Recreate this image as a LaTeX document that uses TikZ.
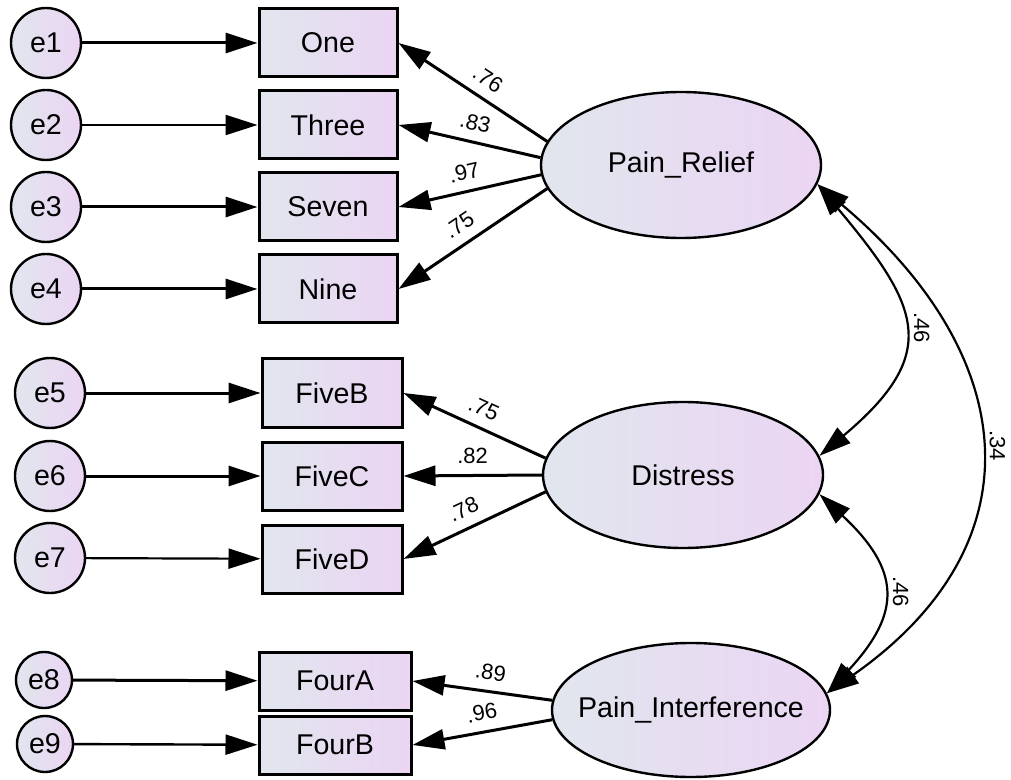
\documentclass[tikz,border=0pt]{standalone}
\usepackage{fontspec}
\setmainfont{Liberation Sans}
\usetikzlibrary{arrows.meta,shapes.geometric}
\definecolor{shadeL}{RGB}{225,230,238}
\definecolor{shadeR}{RGB}{235,213,243}
\begin{document}
\begin{tikzpicture}[x=0.5pt,y=-0.5pt,
		font=\fontsize{14.3}{17}\selectfont,
		err/.style={circle,draw,line width=1.2pt,left color=shadeL,right color=shadeR,minimum size=35pt,inner sep=0pt},
		obs/.style={rectangle,draw,line width=1.5pt,left color=shadeL,right color=shadeR,minimum width=69pt,minimum height=34pt,inner sep=0pt},
		lat/.style={ellipse,draw,line width=1.2pt,left color=shadeL,right color=shadeR,minimum width=140pt,minimum height=73pt,inner sep=0pt},
		reg/.style={-{Triangle[length=16pt,width=10pt]},line width=1.5pt},
		cov/.style={{Triangle[length=16pt,width=10pt]}-{Triangle[length=16pt,width=10pt]},line width=1.1pt},
		coef/.style={font=\fontsize{11}{13}\selectfont,sloped,above,inner sep=5pt},
		rcoef/.style={font=\fontsize{11}{13}\selectfont,midway,rotate=-90,anchor=south,inner sep=5pt}]
		\useasboundingbox(0,0)rectangle(1011,780);
		\node[err](e1)at(46,43){e1};
		\node[err](e2)at(46,125){e2};
		\node[err](e3)at(46,207){e3};
		\node[err](e4)at(46,289){e4};
		\node[err](e5)at(50,393){e5};
		\node[err](e6)at(50,476){e6};
		\node[err](e7)at(50,558){e7};
		\node[err,minimum size=28pt](e8)at(44,680){e8};
		\node[err,minimum size=28pt](e9)at(45,744){e9};
		\node[obs](one)at(328,43){One};
		\node[obs](three)at(328,125){Three};
		\node[obs](seven)at(328,207){Seven};
		\node[obs](nine)at(328,289){Nine};
		\node[obs,minimum width=70pt](fiveB)at(332,393){FiveB};
		\node[obs,minimum width=70pt](fiveC)at(332,476){FiveC};
		\node[obs,minimum width=70pt](fiveD)at(332,559){FiveD};
		\node[obs,minimum width=76pt,minimum height=29pt](fourA)at(335,681){FourA};
		\node[obs,minimum width=76pt,minimum height=29pt](fourB)at(335,745){FourB};
		\node[lat](relief)at(681,165){Pain\_Relief};
		\node[lat](distress)at(683,475){Distress};
		\node[lat,minimum width=139pt,minimum height=67pt,inner xsep=-8pt](interf)at(691,710){Pain\_Interference};
		\draw[reg](e1)--(one);
		\draw[reg,line width=1.1pt](e2)--(three);
		\draw[reg](e3)--(seven);
		\draw[reg](e4)--(nine);
		\draw[reg](e5)--(fiveB);
		\draw[reg](e6)--(fiveC);
		\draw[reg,line width=1.1pt](e7)--(fiveD);
		\draw[reg](e8)--(fourA);
		\draw[reg,line width=1.2pt](e9)--(fourB);
		\draw[reg](relief.170)--node[coef,pos=.47]{.76}(one.east);
		\draw[reg](relief.177)--node[coef,pos=.49]{.83}(three.east);
		\draw[reg](relief.184)--node[coef,pos=.51]{.97}(seven.east);
		\draw[reg](relief.190)--node[coef,pos=.52]{.75}(nine.east);
		\draw[reg](distress.173)--node[coef,pos=.49]{.75}(fiveB.east);
		\draw[reg](distress.180)--node[coef,pos=.5]{.82}(fiveC.east);
		\draw[reg](distress.187)--node[coef,pos=.52]{.78}(fiveD.east);
		\draw[reg](interf.176)--node[coef,pos=.46]{.89}(fourA.east);
		\draw[reg](interf.184)--node[coef,pos=.48]{.96}(fourB.east);
		\draw[cov](relief.-8)to[out=-50,in=40,looseness=1.5]node[rcoef]{.46}(distress.8);
		\draw[cov](relief.-8)to[out=-40,in=35,looseness=1.32]node[rcoef]{.34}(interf.7);
		\draw[cov](distress.-8)to[out=-43,in=47,looseness=1.42]node[rcoef]{.46}(interf.7);
	\end{tikzpicture}
\end{document}
